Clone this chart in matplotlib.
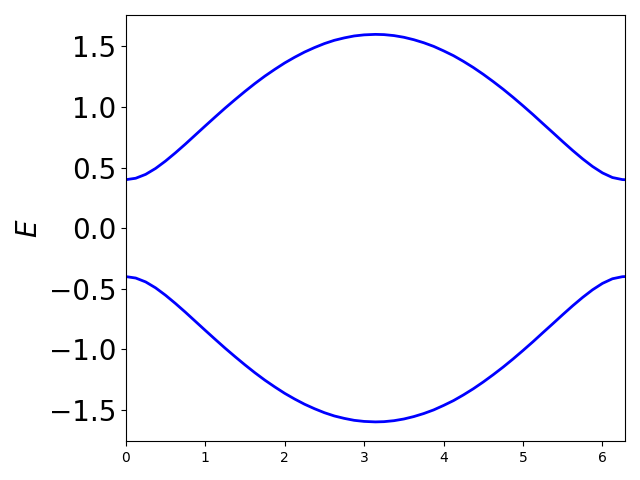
import matplotlib
matplotlib.use('Agg')
import matplotlib.pyplot as plt
from matplotlib.ticker import MultipleLocator

# momento k e as duas bandas
k = [0.0, 0.125, 0.25, 0.375, 0.5, 0.625, 0.75, 0.875, 1.0, 1.125, 1.25,
     1.375, 1.5, 1.625, 1.75, 1.875, 2.0, 2.125, 2.25, 2.375, 2.5, 2.625,
     2.75, 2.875, 3.0, 3.1416, 3.25, 3.375, 3.5, 3.625, 3.75, 3.875, 4.0,
     4.125, 4.25, 4.375, 4.5, 4.625, 4.75, 4.875, 5.0, 5.125, 5.25, 5.375,
     5.5, 5.625, 5.75, 5.875, 6.0, 6.125, 6.25, 6.2832]

e_sup = [0.400, 0.412, 0.444, 0.493, 0.554, 0.622, 0.694, 0.769, 0.844,
         0.918, 0.991, 1.061, 1.129, 1.194, 1.255, 1.311, 1.364, 1.411,
         1.454, 1.491, 1.524, 1.551, 1.571, 1.587, 1.596, 1.600, 1.598,
         1.590, 1.576, 1.556, 1.531, 1.501, 1.464, 1.424, 1.377, 1.326,
         1.270, 1.210, 1.147, 1.080, 1.010, 0.938, 0.863, 0.789, 0.714,
         0.641, 0.572, 0.509, 0.456, 0.418, 0.401, 0.400]

e_inf = [-0.400, -0.412, -0.444, -0.493, -0.554, -0.622, -0.694, -0.769,
         -0.844, -0.918, -0.991, -1.061, -1.129, -1.194, -1.255, -1.311,
         -1.364, -1.411, -1.454, -1.491, -1.524, -1.551, -1.571, -1.587,
         -1.596, -1.600, -1.598, -1.590, -1.576, -1.556, -1.531, -1.501,
         -1.464, -1.424, -1.377, -1.326, -1.270, -1.210, -1.147, -1.080,
         -1.010, -0.938, -0.863, -0.789, -0.714, -0.641, -0.572, -0.509,
         -0.456, -0.418, -0.401, -0.400]

fig, ax = plt.subplots(figsize=(6.4, 4.8), dpi=100)

ax.plot(k, e_sup, color='blue', linewidth=2)
ax.plot(k, e_inf, color='blue', linewidth=2)

ax.set_xlim(0, 6.2832)
ax.yaxis.set_major_locator(MultipleLocator(0.5))
ax.set_ylabel('$E$', fontsize=20)
ax.tick_params(axis='y', labelsize=20)
ax.tick_params(axis='x', labelsize=10)

plt.tight_layout()
plt.savefig('out.png')
